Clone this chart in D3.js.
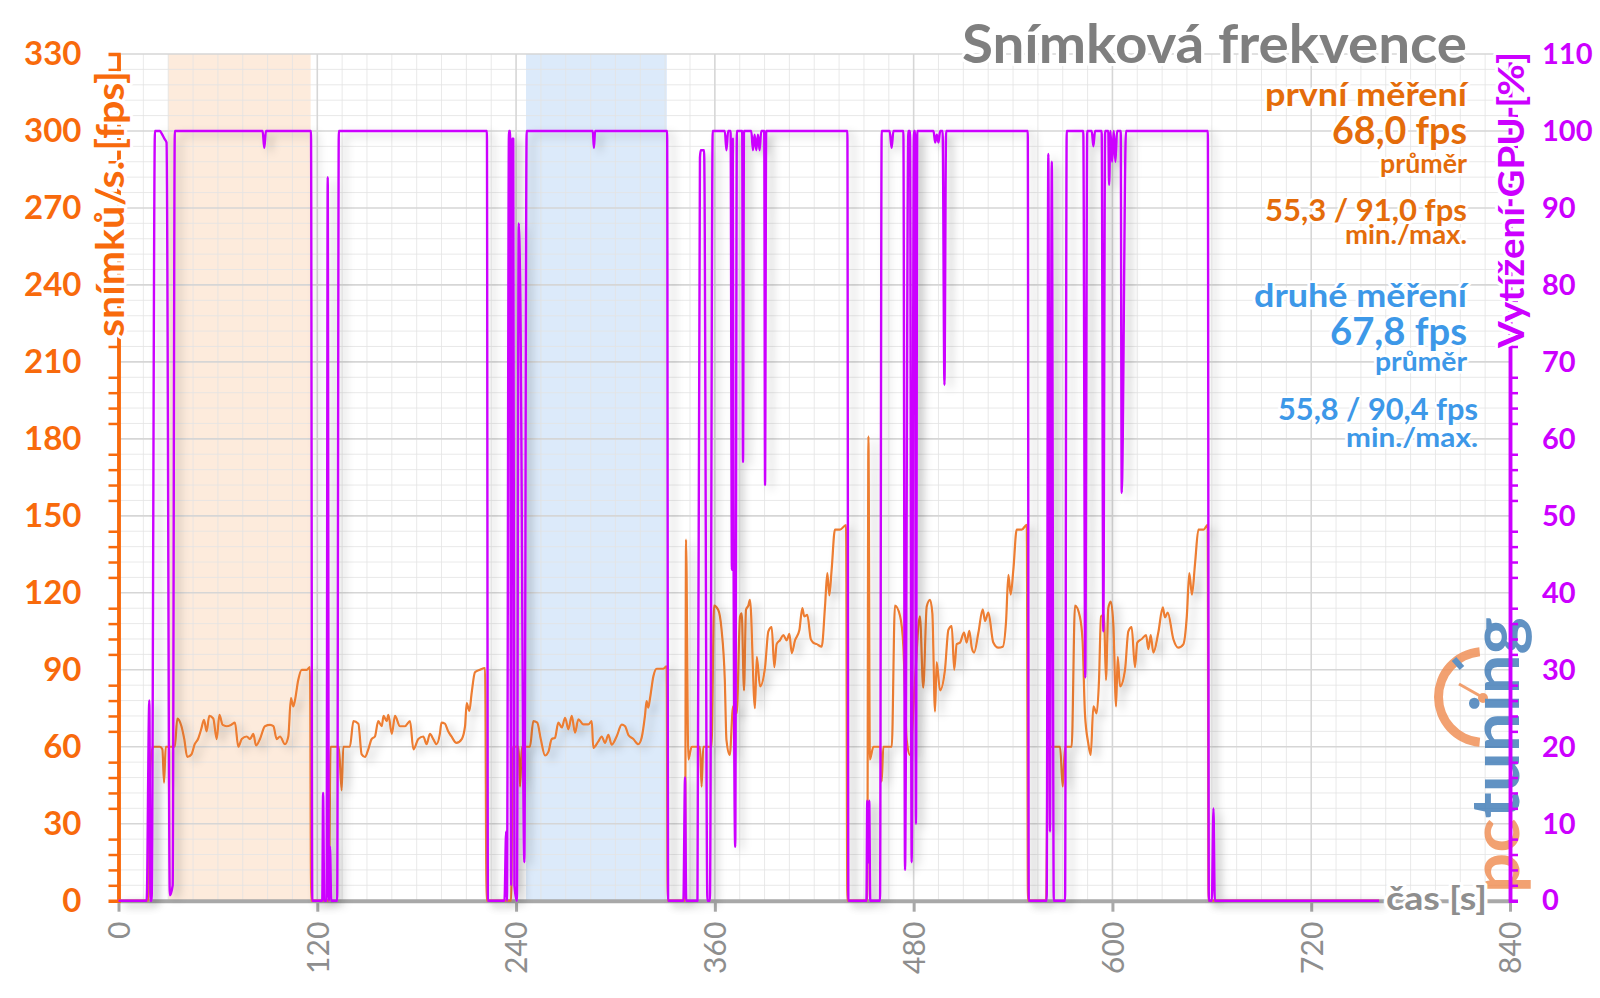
<!DOCTYPE html>
<html><head><meta charset="utf-8">
<script src="https://cdn.jsdelivr.net/npm/d3@7"></script>
<style>
html,body{margin:0;padding:0;background:#fff;}
svg{display:block;font-family:Lato,'Open Sans',sans-serif;}
.halo{paint-order:stroke;stroke:#fff;stroke-linejoin:round;}
</style></head><body>
<svg id="c" width="1600" height="998"></svg>
<script>
// ---------- DATA ----------
const xTicks = [0,120,240,360,480,600,720,840];
const fpsTicks = [0,30,60,90,120,150,180,210,240,270,300,330];
const gpuTicks = [0,10,20,30,40,50,60,70,80,90,100,110];
const firstRunSpan = [30,116];
const secondRunSpan = [246,331];

// frame rate [fps] vs time [s]
const fpsSeries = [
[0,0],[17.5,0],[18,0],[19,48],[20,58],[21,60],[23,60],[25,60],[26.5,59],[27.5,46],[28.5,60],[31,60],[34,60],[35.5,71],[38,68],[39.7,63],[41.5,56],[44,57],[46,61],[48,63],[50,67],[51.6,70.5],[53.2,66],[54.8,72],[57.2,71],[59.3,63],[60.9,72.4],[62.9,68.5],[65.3,68],[67.9,68.5],[70.3,69.4],[72.3,60],[74.4,63],[77.4,64],[79.4,63],[81.4,65],[83,60.5],[85.4,63],[88.4,68],[91.5,68.5],[93.5,68],[95.5,63],[97.5,64],[100.5,61],[102.5,64],[104.1,79],[105.5,75.7],[106.5,78],[108.5,86],[110.6,90],[113.6,90],[115.6,91],[116.3,0],
[127,0],[128,60],[133,60],[134.7,43],[135.7,60],[139.7,60],[141.8,70],[144.8,69],[146.8,57],[148.8,56],[150.8,59],[152.8,63],[154.8,64],[156.8,70],[158.9,68],[160,72],[161.9,70],[162.9,72.4],[165,65],[166.9,72],[169.9,68],[172.9,68],[176,70],[178,59],[181,63],[184,64],[186,61],[188,65],[190,63],[192,61],[194,65],[195,69.4],[197,69],[199,66],[201,64],[204,61.5],[207.2,63],[209.2,68],[210.2,77],[211.8,74],[213.2,81],[215.2,89],[218.2,90],[221.3,90.7],[222.2,0],
[237,0],[238,60],[241.5,60],[242.4,44.5],[243.5,60],[246.4,60],[248.4,60],[250.4,70],[252.8,69.4],[254.9,63],[257.5,56.6],[259.5,58],[261.5,63],[263.5,63.5],[265.5,69.4],[267.6,67.5],[269.6,71.3],[271.6,66.8],[273.6,72],[275.6,65.5],[277.6,70.7],[280.6,68.7],[283.6,68.7],[285.7,70],[286.6,59.6],[289.6,62],[291.7,64],[293.7,61.5],[295.7,64.6],[297.7,60.8],[300.7,64],[303.8,68.6],[305.8,68],[307.8,64.6],[310.8,63],[313.8,61],[315.8,63.5],[317.8,72],[318.8,77.8],[319.8,75.2],[320.9,79],[322.9,87.5],[324.9,90.4],[328.9,90.4],[330.9,91.3],[331.5,0],
[342,0],[342.6,140.7],[344,55],[346,60],[351,60],[352,44.5],[353,60],[358,60],[359.5,115],[362,113.4],[364,106],[366,86],[367,62.7],[369,56.8],[371,75.7],[373.2,73],[375.2,110.8],[376.2,112],[377.6,82],[378.8,113.4],[380.2,115],[381.2,117.3],[384.2,75],[385.3,95],[387.3,83.5],[390.3,91],[392.3,105],[394.3,106.6],[395.9,91],[397.3,100],[399.3,101.5],[401.3,103.5],[403.4,101.5],[405,104],[406.4,96.5],[408.4,101.5],[411,105.4],[412.8,114],[414,110.8],[415.8,111.4],[417.9,102],[419.4,100.6],[421.5,100],[424.5,99],[426.5,114.7],[427.9,127.7],[429.1,119],[430.5,129],[432.5,144.6],[435.5,144.6],[439.2,146.4],[440,0],
[452,0],[452.7,181],[453.6,55],[455.7,60],[460,60],[460.7,46.4],[461.7,60],[466.8,60],[468.7,115],[471.8,111],[473.8,99],[475.8,62.7],[477.8,56.8],[480.8,86],[483.8,110.8],[485.8,83],[487.9,114.7],[489.9,117.3],[491.3,112],[492.9,73.7],[493.9,93],[495.9,82],[498.9,90],[501,105.6],[503,107],[504.5,90],[506,100],[508,100.6],[510.4,104.5],[512,100.6],[513.6,105.2],[515.1,98.6],[516.5,96.7],[519.1,104.5],[521.7,113.6],[523.1,109],[525.1,112.3],[528.1,100.6],[531.1,98.6],[533.8,99],[535.8,109],[537.2,127],[538.6,119.3],[540.2,129],[542.2,144.6],[545.2,144.6],[548.3,146.5],[549,0],
[560,0],[561,60],[563.4,60],[568.4,60],[570,44.5],[571.4,60],[575.4,60],[577.4,115],[580.4,110.6],[582,101],[583.4,73],[585.4,61.4],[586.9,56.8],[588.5,75.7],[590.5,73],[591.9,86],[593.1,110.8],[594.9,111.4],[596.1,86],[597.5,114],[599,116.6],[600.6,107],[602.2,75.7],[603.2,95],[604.6,83.5],[607.6,90],[609.6,105],[611.6,106.6],[613.6,91],[615,100.6],[617.7,102],[620.3,103.5],[621.7,98],[623.1,103.5],[624.7,96.7],[627.7,104.5],[630.4,114.3],[631.7,110.4],[633.4,112.3],[636.8,101.9],[639.8,98.6],[642.8,99.9],[644.9,110.8],[646.4,127.7],[648,119.3],[649.9,131.6],[651.9,144.6],[655,144.6],[657.5,146.5],[658,0],[761,0]
];

// GPU load [%] vs time [s]
const gpuSeries = [
[0,0],[17,0],[18.6,26],[19.3,0],[20,0],[22,100],[25,100],[26,99.7],[27.7,99],[29,98.5],[31,0.7],[32.7,2],[34,100],[87,100],[88,97.8],[89,100],[116.2,100],[117,0],
[123,0],[123.5,14],[124.2,0],[125.6,0],[126.3,94],[127,0],[127.7,7],[128.4,0],[132,0],[133,100],[222.4,100],[223,0],
[233,0],[234,9],[234.5,0],[235.7,100],[236.4,100],[237,2],[237.6,99],[238.3,99],[239,2],[240.5,0],[241.6,88],[242.5,80],[245,5],[246.4,100],[286.3,100],[287,97.8],[287.7,100],[331.2,100],[331.8,0],
[341,0],[342,16],[342.7,0],[349.5,0],[351,96.5],[351.5,97.5],[353.5,97.5],[355.5,0],[357,0],[358.7,100],[366,100],[367,97.5],[368,100],[369.5,100],[370.3,43],[370.8,99],[371.3,45],[372.3,7],[373.3,100],[376.5,100],[377,57],[377.6,100],[382,100],[383,97.5],[384,99.5],[385,97.5],[386,99.5],[387,97.5],[388,100],[389.8,100],[390.3,54],[391,100],[440,100],[440.6,0],
[451.5,0],[452,13],[452.6,5],[453.2,13],[453.8,0],[459.7,0],[460.7,100],[465.5,100],[466.7,97.8],[467.8,100],[473.8,100],[474.8,4],[476.8,100],[477.8,100],[478.8,5],[480.2,100],[480.8,100],[481.4,10],[482.2,100],[492,100],[493,98.5],[494,99.5],[495,98.5],[496,100],[497.5,100],[498.6,67],[499.6,100],[548.9,100],[549.5,0],
[560.3,0],[561.3,97],[562.3,9],[563.4,96],[564.6,0],[571.4,0],[572.4,100],[582.4,100],[583.6,29],[584.8,100],[587.5,100],[588.5,98],[589.5,100],[593.5,100],[594.5,35],[595.6,100],[597.5,100],[598,93],[598.8,100],[599.8,96],[600.8,100],[601.8,96],[602.8,100],[605,100],[605.6,53],[608.2,100],[657.6,100],[658.2,0],[660,0],[661,12],[661.8,0],[761,0]
];

const chartTitle = "Snímková frekvence";
const firstLabels = ["první měření","68,0 fps","průměr","55,3 / 91,0 fps","min./max."];
const secondLabels = ["druhé měření","67,8 fps","průměr","55,8 / 90,4 fps","min./max."];
const leftTitle = "snímků/s. [fps]";
const rightTitle = "Vytížení GPU [%]";
const xTitle = "čas [s]";

// ---------- LAYOUT ----------
const X0=118.5, X1=1510, Y0=900.7, Y1=54;
const C = {orangeAxis:"#F86A0C", orangeLine:"#ED7D31", magenta:"#CC00FF", gray:"#8C8C8C",
  orangeText:"#E46C0A", blueText:"#3D98E8", title:"#7F7F7F"};

const svg = d3.select("#c");
const x = d3.scaleLinear().domain([0,840]).range([X0,X1]);
const yL = d3.scaleLinear().domain([0,330]).range([Y0,Y1]);
const yR = d3.scaleLinear().domain([0,110]).range([Y0,Y1]);

const defs = svg.append("defs");
const f = defs.append("filter").attr("id","sh").attr("filterUnits","userSpaceOnUse")
  .attr("x",0).attr("y",0).attr("width",1600).attr("height",998);
f.append("feDropShadow").attr("dx",6).attr("dy",4).attr("stdDeviation",4)
  .attr("flood-color","#000").attr("flood-opacity",0.22);

svg.append("rect").attr("width",1600).attr("height",998).attr("fill","#fff");

// bands
[[firstRunSpan,"#FDEBDC"],[secondRunSpan,"#DCEAFA"]].forEach(([s,c])=>{
  svg.append("rect").attr("x",x(s[0])).attr("y",Y1).attr("width",x(s[1])-x(s[0]))
    .attr("height",Y0-Y1).attr("fill",c);
});

// grid
const grid = svg.append("g");
d3.range(0,841,15).filter(t=>t%120!==0).forEach(t=>{
  grid.append("line").attr("x1",x(t)).attr("x2",x(t)).attr("y1",Y1).attr("y2",Y0)
    .attr("stroke","#E4E4E4").attr("stroke-opacity",0.8).attr("stroke-width",1);
});
d3.range(0,331,6).filter(v=>v%30!==0).forEach(v=>{
  grid.append("line").attr("x1",X0).attr("x2",X1).attr("y1",yL(v)).attr("y2",yL(v))
    .attr("stroke","#E4E4E4").attr("stroke-opacity",0.8).attr("stroke-width",1);
});
xTicks.forEach(t=>{
  grid.append("line").attr("x1",x(t)).attr("x2",x(t)).attr("y1",Y1).attr("y2",Y0)
    .attr("stroke","#D6D6D6").attr("stroke-width",1.6);
});
fpsTicks.forEach(v=>{
  grid.append("line").attr("x1",X0).attr("x2",X1).attr("y1",yL(v)).attr("y2",yL(v))
    .attr("stroke","#D6D6D6").attr("stroke-width",1.6);
});

// logo (watermark)
const logo = svg.append("g").attr("opacity",0.8);
logo.append("path").attr("transform","translate(1484,697)")
  .attr("d", d3.arc()({innerRadius:41,outerRadius:50,startAngle:Math.PI*1.03,endAngle:Math.PI*1.97}))
  .attr("fill","#EF8A4E");
logo.append("line").attr("x1",1454).attr("y1",659).attr("x2",1462).attr("y2",668)
  .attr("stroke","#3A78B5").attr("stroke-width",6);
logo.append("line").attr("x1",1459).attr("y1",684).attr("x2",1482).attr("y2",697)
  .attr("stroke","#EF8A4E").attr("stroke-width",3);
logo.append("circle").attr("cx",1483).attr("cy",698).attr("r",5).attr("fill","#EF8A4E");
const lt = logo.append("text").attr("transform","translate(1519,893) rotate(-90)")
  .attr("font-size",66).attr("font-weight",700).attr("textLength",276).attr("lengthAdjust","spacingAndGlyphs");
lt.append("tspan").text("pc").attr("fill","#EF8A4E");
lt.append("tspan").text("tuning").attr("fill","#3A78B5");

// x axis (below data)
const xa = svg.append("g").attr("transform",`translate(0,${Y0})`)
  .call(d3.axisBottom(x).tickValues(xTicks).tickSize(11).tickSizeOuter(0));
xa.select(".domain").attr("stroke","#A8A8A8").attr("stroke-width",4);
xa.selectAll(".tick line").attr("stroke","#A8A8A8").attr("stroke-width",3);
xa.selectAll(".tick text").attr("transform","rotate(-90)").attr("x",-21).attr("y",0)
  .attr("dy","0.36em").attr("text-anchor","end").attr("fill","#8E8E8E")
  .attr("font-size",30).attr("font-family","Lato");

// left axis
const la = svg.append("g").attr("transform",`translate(${X0},0)`);
la.call(d3.axisLeft(yL).tickValues(d3.range(0,331,6).filter(v=>v%30!==0)).tickSize(10).tickFormat(""));
la.append("g").call(d3.axisLeft(yL).tickValues(fpsTicks).tickSize(0).tickPadding(37));
la.selectAll(".domain").attr("stroke",C.orangeAxis).attr("stroke-width",3.5);
la.selectAll(".tick line").attr("stroke",C.orangeAxis).attr("stroke-width",2.5);
la.select("g").selectAll(".tick").append("line").attr("x1",-11).attr("x2",13)
  .attr("stroke",C.orangeAxis).attr("stroke-width",3);
la.selectAll(".tick text").attr("fill",C.orangeAxis).attr("font-size",33)
  .attr("font-weight",700).attr("font-family","Lato");

// right axis
const ra = svg.append("g").attr("transform",`translate(${X1},0)`);
ra.call(d3.axisRight(yR).tickValues(d3.range(0,111,2).filter(v=>v%10!==0)).tickSize(8).tickFormat(""));
ra.append("g").call(d3.axisRight(yR).tickValues(gpuTicks).tickSize(0).tickPadding(32));
ra.selectAll(".domain").attr("stroke",C.magenta).attr("stroke-width",3.5);
ra.selectAll(".tick line").attr("stroke",C.magenta).attr("stroke-width",2.5);
ra.select("g").selectAll(".tick").append("line").attr("x1",-12).attr("x2",11)
  .attr("stroke",C.magenta).attr("stroke-width",3);
ra.selectAll(".tick text").attr("fill",C.magenta).attr("font-size",29)
  .attr("font-weight",700).attr("font-family","Lato");

// data lines
const lineF = d3.line().x(d=>x(d[0])).y(d=>yL(d[1])).curve(d3.curveMonotoneX);
const lineG = d3.line().x(d=>x(d[0])).y(d=>yR(d[1])).curve(d3.curveMonotoneX);
svg.append("path").datum(fpsSeries).attr("d",lineF).attr("fill","none")
  .attr("stroke",C.orangeLine).attr("stroke-width",2.2).attr("stroke-linejoin","round").attr("filter","url(#sh)");
svg.append("path").datum(gpuSeries).attr("d",lineG).attr("fill","none")
  .attr("stroke",C.magenta).attr("stroke-width",2.4).attr("stroke-linejoin","round").attr("filter","url(#sh)");

// axis titles
function halo(sel,w){return sel.attr("class","halo").attr("stroke-width",w);}
halo(svg.append("text").attr("transform","translate(124,204) rotate(-90)")
  .attr("text-anchor","middle").attr("font-size",39).attr("font-weight",700)
  .attr("fill",C.orangeAxis).attr("textLength",266).attr("lengthAdjust","spacingAndGlyphs").text(leftTitle),6);
halo(svg.append("text").attr("transform","translate(1524,200) rotate(-90)")
  .attr("text-anchor","middle").attr("font-size",37).attr("font-weight",700)
  .attr("fill",C.magenta).attr("textLength",296).attr("lengthAdjust","spacingAndGlyphs").text(rightTitle),6);
halo(svg.append("text").attr("x",1487).attr("y",910).attr("text-anchor","end")
  .attr("font-size",33).attr("font-weight",700).attr("fill","#8E8E8E")
  .attr("textLength",101).attr("lengthAdjust","spacingAndGlyphs").text(xTitle),6);

// title + stats
halo(svg.append("text").attr("x",1467).attr("y",63).attr("text-anchor","end")
  .attr("font-size",54).attr("font-weight",700).attr("fill",C.title)
  .attr("textLength",505).attr("lengthAdjust","spacingAndGlyphs").text(chartTitle),6);

const statLayout = [ // [size, length, baseline, right]
  [[33,202,106,1467],[38,135,144,1467],[26,87,173,1467],[31,202,221,1467],[26,122,244,1467]],
  [[33,213,307,1467],[38,137,345,1467],[26,92,371,1467],[31,200,420,1478],[27,132,447,1478]]
];
[[firstLabels,C.orangeText],[secondLabels,C.blueText]].forEach(([labels,col],k)=>{
  labels.forEach((s,i)=>{
    const L = statLayout[k][i];
    halo(svg.append("text").attr("x",L[3]).attr("y",L[2]).attr("text-anchor","end")
      .attr("font-size",L[0]).attr("font-weight",700).attr("fill",col)
      .attr("textLength",L[1]).attr("lengthAdjust","spacingAndGlyphs").text(s),5);
  });
});
</script>
</body></html>
